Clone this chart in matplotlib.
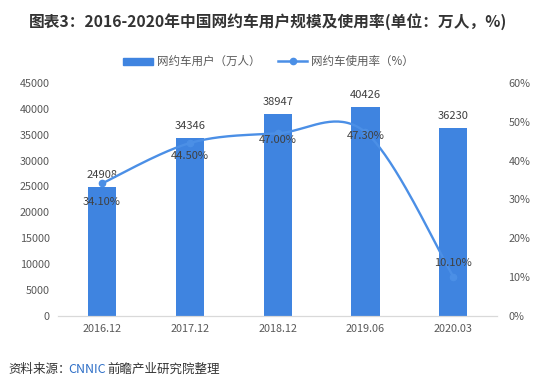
import numpy as np
import matplotlib.pyplot as plt
from matplotlib.patches import Patch
from matplotlib.lines import Line2D

plt.rcParams['font.family'] = ['Noto Sans CJK SC', 'DejaVu Sans']

# data
periods = ['2016.12', '2017.12', '2018.12', '2019.06', '2020.03']
users = [24908, 34346, 38947, 40426, 36230]          # 万人
usage_rate = [34.10, 44.50, 47.00, 47.30, 10.10]     # %

bar_color = '#3f84e0'
line_color = '#4b8fe6'
text_color = '#404040'
tick_color = '#595959'

fig = plt.figure(figsize=(5.37, 3.91), dpi=100)
ax = fig.add_axes([0.108, 0.192, 0.818, 0.596])
ax2 = ax.twinx()

x = np.arange(len(periods))
ax.bar(x, users, width=0.32, color=bar_color, zorder=2)
ax.set_ylim(0, 45000)
ax.set_yticks(range(0, 45001, 5000))
ax.set_xlim(-0.5, len(periods) - 0.5)
ax.set_xticks(x)
ax.set_xticklabels(periods)

for xi, v in zip(x, users):
    ax.annotate(str(v), (xi, v), xytext=(0, 5), textcoords='offset points',
                ha='center', va='bottom', fontsize=8, color=text_color)

# smooth line like excel (bezier through points, catmull-rom control points)
px = x.astype(float)
py = np.array(usage_rate, dtype=float)
cx, cy = [], []
t = np.linspace(0, 1, 40)
for i in range(len(px) - 1):
    p0 = np.array([px[max(i - 1, 0)], py[max(i - 1, 0)]])
    p1 = np.array([px[i], py[i]])
    p2 = np.array([px[i + 1], py[i + 1]])
    p3 = np.array([px[min(i + 2, len(px) - 1)], py[min(i + 2, len(px) - 1)]])
    c1 = p1 + (p2 - p0) / 6
    c2 = p2 - (p3 - p1) / 6
    seg = ((1 - t) ** 3)[:, None] * p1 + (3 * (1 - t) ** 2 * t)[:, None] * c1 \
        + (3 * (1 - t) * t ** 2)[:, None] * c2 + (t ** 3)[:, None] * p2
    cx.extend(seg[:, 0])
    cy.extend(seg[:, 1])
ax2.plot(cx, cy, color=line_color, lw=1.7, zorder=3)
ax2.plot(px, py, 'o', color=line_color, ms=4.5, zorder=4)
ax2.set_ylim(0, 60)
ax2.set_yticks(range(0, 61, 10))
ax2.set_yticklabels([f'{v}%' for v in range(0, 61, 10)])

label_offsets = [(0, -13), (0, -9), (0, -5), (0, -3), (0, 10)]
for xi, v, off in zip(px, usage_rate, label_offsets):
    ax2.annotate(f'{v:.2f}%', (xi, v), xytext=off, textcoords='offset points',
                 ha='center', va='center', fontsize=8, color=text_color, zorder=5)

for a in (ax, ax2):
    for s in ('top', 'left', 'right'):
        a.spines[s].set_visible(False)
    a.spines['bottom'].set_color('#d9d9d9')
    a.tick_params(length=0, labelsize=7.8, labelcolor=tick_color, pad=6)
ax2.tick_params(axis='y', pad=8)
ax.set_zorder(ax2.get_zorder() - 1)
ax.patch.set_visible(False)

# legend
handles = [Patch(color=bar_color, label='网约车用户（万人）'),
           Line2D([0], [0], color=line_color, lw=1.8, marker='o', ms=4.5,
                  label='网约车使用率（%）')]
fig.legend(handles=handles, loc='center', bbox_to_anchor=(0.5, 0.842), ncol=2,
           frameon=False, fontsize=8.3, labelcolor=tick_color, handlelength=2.6,
           handleheight=0.6, columnspacing=1.5, handletextpad=0.3)

fig.text(0.5, 0.944, '图表3：2016-2020年中国网约车用户规模及使用率(单位：万人，%)',
         ha='center', va='center', fontsize=11.3, fontweight='bold', color='#333333')

fig.text(0.015, 0.055, '资料来源：', ha='left', va='center', fontsize=9, color='#333333')
fig.text(0.015 + 0.112, 0.055, 'CNNIC', ha='left', va='center', fontsize=9, color='#2e6fc7')
fig.text(0.015 + 0.185, 0.055, '前瞻产业研究院整理', ha='left', va='center', fontsize=9,
         color='#333333')

fig.savefig('out.png', dpi=100)
